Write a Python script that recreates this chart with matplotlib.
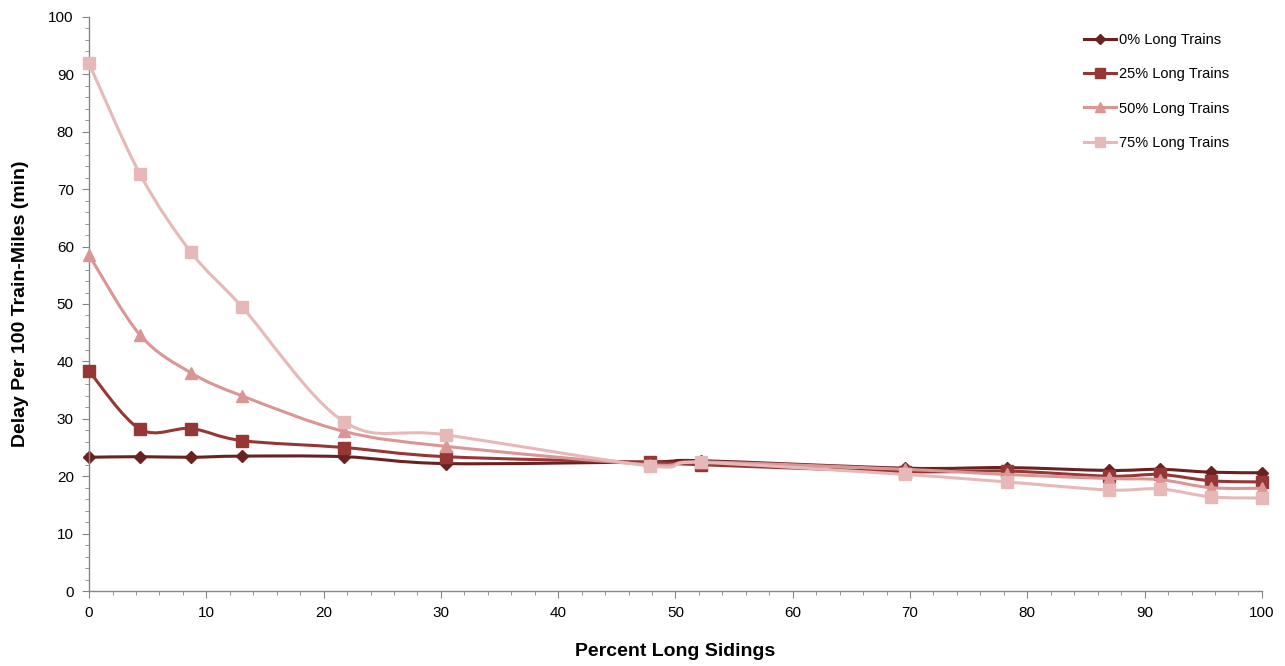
import numpy as np
import matplotlib.pyplot as plt
from matplotlib.path import Path
from matplotlib.patches import PathPatch
from matplotlib.lines import Line2D
from matplotlib.ticker import MultipleLocator

plt.rcParams['font.family'] = ['Liberation Sans', 'DejaVu Sans']

# percent long sidings (multiples of 100/23)
sidings = [0, 4.35, 8.70, 13.04, 21.74, 30.43, 47.83, 52.17, 69.57, 78.26, 86.96, 91.30, 95.65, 100]

delay_0 = [23.3, 23.4, 23.3, 23.5, 23.4, 22.2, 22.5, 22.7, 21.4, 21.5, 21.0, 21.2, 20.7, 20.6]
delay_25 = [38.3, 28.2, 28.3, 26.2, 25.0, 23.4, 22.4, 22.0, 20.8, 20.9, 20.0, 20.3, 19.2, 19.0]
delay_50 = [58.5, 44.6, 38.0, 34.0, 27.8, 25.2, 22.0, 22.5, 21.2, 20.3, 19.6, 19.4, 18.0, 17.9]
delay_75 = [91.9, 72.6, 59.0, 49.5, 29.5, 27.2, 21.8, 22.4, 20.3, 19.0, 17.6, 17.8, 16.4, 16.2]

labels = ['0% Long Trains', '25% Long Trains', '50% Long Trains', '75% Long Trains']
colors = ['#6a2221', '#953735', '#d99694', '#e6b9b8']
markers = ['D', 's', '^', 's']
msizes = [6.5, 8.5, 8.5, 8.5]


# courbe lissée façon Excel (Bezier cubique, Catmull-Rom)
def smooth_path(x, y):
    pts = np.column_stack([x, y])
    n = len(pts)
    verts = [pts[0]]
    codes = [Path.MOVETO]
    for i in range(n - 1):
        p0 = pts[max(i - 1, 0)]
        p1 = pts[i]
        p2 = pts[i + 1]
        p3 = pts[min(i + 2, n - 1)]
        c1 = p1 + (p2 - p0) / 6
        c2 = p2 - (p3 - p1) / 6
        verts += [c1, c2, p2]
        codes += [Path.CURVE4] * 3
    return Path(verts, codes)


fig = plt.figure(figsize=(12.85, 6.66), dpi=100)
ax = fig.add_axes([0.0693, 0.1126, 0.9127, 0.8619])

series = [delay_0, delay_25, delay_50, delay_75]
handles = []
for i, vals in enumerate(series):
    patch = PathPatch(smooth_path(sidings, vals), fill=False, edgecolor=colors[i],
                      linewidth=2.2, zorder=2 + i, capstyle='round', joinstyle='round')
    ax.add_patch(patch)
    ax.plot(sidings, vals, linestyle='none', marker=markers[i], markersize=msizes[i],
            color=colors[i], zorder=2 + i, clip_on=False)
    handles.append(Line2D([], [], color=colors[i], linewidth=2.2, marker=markers[i],
                          markersize=msizes[i] * 0.85))

ax.set_xlim(0, 100)
ax.set_ylim(0, 100)
ax.xaxis.set_major_locator(MultipleLocator(10))
ax.xaxis.set_minor_locator(MultipleLocator(2))
ax.yaxis.set_major_locator(MultipleLocator(10))
ax.yaxis.set_minor_locator(MultipleLocator(2))

for s in ['top', 'right']:
    ax.spines[s].set_visible(False)
for s in ['left', 'bottom']:
    ax.spines[s].set_color('#868686')
    ax.spines[s].set_linewidth(1.0)

ax.tick_params(which='major', direction='out', length=5, color='#868686', labelsize=11, pad=6)
ax.tick_params(which='minor', direction='out', length=3, color='#868686')

ax.set_xlabel('Percent Long Sidings', fontsize=14, fontweight='bold', labelpad=16)
ax.set_ylabel('Delay Per 100 Train-Miles (min)', fontsize=14, fontweight='bold', labelpad=14)

ax.legend(handles, labels, loc='upper right', bbox_to_anchor=(0.983, 0.995), frameon=False,
          fontsize=10.5, handlelength=2.2, handletextpad=0.2, labelspacing=1.39)

fig.savefig('out.png', dpi=100)
